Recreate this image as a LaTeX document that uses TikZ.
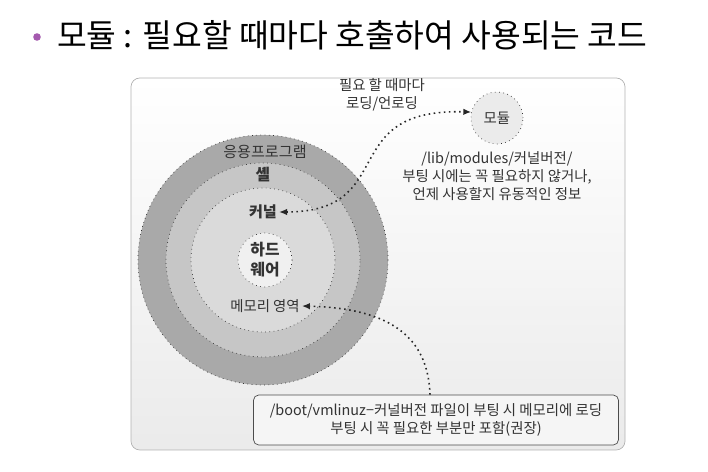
\documentclass[tikz,border=0pt]{standalone}
\usepackage{fontspec}
\setmainfont{Noto Sans CJK KR}
\usetikzlibrary{arrows.meta,positioning,shadings}

\definecolor{ringout}{HTML}{A9A9A9}
\definecolor{ringmid}{HTML}{C6C6C6}
\definecolor{ringin}{HTML}{DADADA}
\definecolor{hwfill}{HTML}{F0F0F0}
\definecolor{modfill}{HTML}{EBEBEB}
\definecolor{labelgray}{HTML}{333333}
\definecolor{bulletpurple}{HTML}{A45AAE}

\begin{document}
\begin{tikzpicture}[
    x=0.02cm, y=-0.02cm,
    layer/.style={circle, draw=black!80, dotted, thin},
    lbl/.style={font=\fontsize{8.2}{10.2}\selectfont, text=labelgray, inner sep=1pt, align=center},
    conn/.style={dotted, line width=0.9pt, black!85, {Latex[length=1.6mm,width=1.3mm]}-{Latex[length=1.6mm,width=1.3mm]}},
    onearrow/.style={dotted, line width=0.9pt, black!85, -{Latex[length=1.6mm,width=1.3mm]}}
]
\useasboundingbox (0,0) rectangle (708,472);

% Title line
\fill[bulletpurple] (37,37) circle (3.8);
\node[anchor=west, font=\fontsize{18.4}{21}\selectfont] (title) at (51,35) {모듈 : 필요할 때마다 호출하여 사용되는 코드};

% Frame
\shade[top color=white, bottom color=black!8, draw=black!30, rounded corners=5pt] (131,78) rectangle (625,450);

% Rings
\node[layer, fill=ringout, minimum size=250*0.02cm] (app) at (263,260) {};
\node[layer, fill=ringmid, minimum size=194*0.02cm] (shell) at (263,260) {};
\node[layer, fill=ringin, minimum size=144*0.02cm] (kernelring) at (263,260) {};
\node[layer, fill=hwfill, minimum size=54*0.02cm, lbl, font=\fontsize{9}{11.5}\selectfont\bfseries] (hw) at (265,260) {하드\\웨어};

% Ring labels
\node[lbl, font=\fontsize{8.6}{10}\selectfont] (applbl) at (265,152) {응용프로그램};
\node[lbl, font=\fontsize{9}{10}\selectfont\bfseries] (shelllbl) at (263,175) {셸};
\node[lbl, font=\fontsize{8.6}{10}\selectfont\bfseries] (kernel) at (263,212) {커널};
\node[lbl] (memory) at (265,306) {메모리 영역};

% Module
\node[layer, fill=modfill, minimum size=52*0.02cm, lbl] (module) at (497,118) {모듈};
\node[lbl] (loadlbl) at (382,95) {필요 할 때마다\\로딩/언로딩};
\node[lbl, below=5*0.02cm of module] (modinfo) {/lib/modules/커널버전/\\부팅 시에는 꼭 필요하지 않거나,\\언제 사용할지 유동적인 정보};

% Boot box
\node[draw=black!70, fill=black!4, rounded corners=3pt, lbl, minimum width=365*0.02cm, minimum height=50*0.02cm] (boot) at (436,420) {/boot/vmlinuz−커널버전 파일이 부팅 시 메모리에 로딩\\부팅 시 꼭 필요한 부분만 포함(권장)};

% Connectors
\draw[conn] (kernel.east) .. controls (400,212) and (335,108) .. (module.167);
\draw[onearrow] (boot.north -| 430,0) .. controls (428,330) and (380,308) .. (memory.east);

\end{tikzpicture}
\end{document}
